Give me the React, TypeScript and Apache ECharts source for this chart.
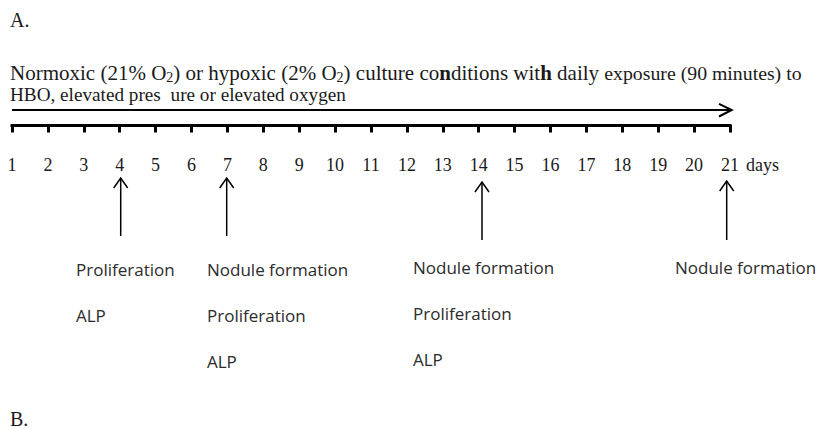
import React, { useEffect, useRef } from 'react';
import * as echarts from 'echarts';

// ---------- data ----------
const DAYS = ['1', '2', '3', '4', '5', '6', '7', '8', '9', '10', '11', '12', '13', '14', '15', '16', '17', '18', '19', '20', '21'];
const AXIS_UNIT = 'days';
const EXPOSURE_PERIOD = ['1', '21']; // daily exposure from first to last day
const EVENT_DAYS = ['4', '7', '14', '21'];
const EVENT_ASSAYS = [
  ['Proliferation', 'ALP'],
  ['Nodule formation', 'Proliferation', 'ALP'],
  ['Nodule formation', 'Proliferation', 'ALP'],
  ['Nodule formation'],
];
const PANEL_LABELS = ['A.', 'B.'];

// ---------- layout / style ----------
const SERIF = '"Liberation Serif", "Times New Roman", serif';
const SANS = '"Open Sans", "Noto Sans", sans-serif';
const TEXT_COLOR = '#1a1a1a';
const LABEL_COLOR = '#2b2b2b';
const ARROW_DX = [1, -0.7, 3.3, -3.3];
const ARROW_TOP = [178, 178, 182, 181];
const ARROW_BOTTOM = [236, 236, 240, 240];
const LABEL_DX = [-44.7, -19.7, -69, -51.7];
const LABEL_CENTER = [269.4, 269.4, 267.4, 267.4];
const ROW_GAP = 46;
const TICK_LABEL_CENTER_Y = 165;

export default function App() {
  const ref = useRef<HTMLDivElement>(null);

  useEffect(() => {
    if (!ref.current) return;
    document.body.style.margin = '0';
    const chart = echarts.init(ref.current, undefined, { renderer: 'svg' });

    const mainTok = { fontSize: 21, fontFamily: SERIF, color: TEXT_COLOR, lineHeight: 18, verticalAlign: 'middle' };
    const line1 =
      '{a|Normoxic (21% O}{s|2}{a|) or hypoxic (2% O}{s|2}{a|) culture co}{b|n}{a|ditions wit}{b|h }{a|daily }{c|exposure (90 minutes) to}';
    const line2 = '{d|HBO, elevated pres }{e|ure or elevated oxygen}';

    const option: any = {
      animation: false,
      grid: { left: 12, right: 88, top: 100, height: 25, outerBoundsMode: 'none' },
      xAxis: {
        type: 'category',
        data: DAYS,
        boundaryGap: false,
        axisLine: { show: true, lineStyle: { color: '#000', width: 3, cap: 'square' } },
        axisTick: { show: true, interval: 0, length: 7.5, lineStyle: { color: '#000', width: 3 } },
        axisLabel: { interval: 0, margin: 31, fontSize: 18, fontFamily: SERIF, color: TEXT_COLOR },
        splitLine: { show: false },
      },
      yAxis: { type: 'value', min: 0, max: 1, show: false },
      series: [
        {
          type: 'custom',
          silent: true,
          clip: false,
          encode: { x: [0, 1], y: 2 },
          data: [[DAYS.indexOf(EXPOSURE_PERIOD[0]), DAYS.indexOf(EXPOSURE_PERIOD[1]), 0]],
          renderItem: (params: any, api: any) => {
            const x0 = api.coord([api.value(0), 0])[0];
            const x1 = api.coord([api.value(1), 0])[0];
            const xEnd = api.coord([DAYS.length - 1, 0])[0];
            const y = 110;
            return {
              type: 'group',
              children: [
                { type: 'line', shape: { x1: x0, y1: y, x2: x1 + 1.2, y2: y }, style: { stroke: '#000', lineWidth: 2 } },
                {
                  type: 'polyline',
                  shape: { points: [[x1 - 11, y - 6.2], [x1 + 1.7, y], [x1 - 11, y + 6.5]] },
                  style: { stroke: '#000', lineWidth: 2, fill: 'none' },
                },
                {
                  type: 'text',
                  style: {
                    text: AXIS_UNIT,
                    x: xEnd + 16,
                    y: TICK_LABEL_CENTER_Y,
                    fontSize: 18,
                    fontFamily: SERIF,
                    fill: TEXT_COLOR,
                    align: 'left',
                    verticalAlign: 'middle',
                  },
                },
              ],
            };
          },
        },
        {
          type: 'custom',
          silent: true,
          clip: false,
          encode: { x: 0, y: 1 },
          data: EVENT_DAYS.map((d) => [DAYS.indexOf(d), 0]),
          renderItem: (params: any, api: any) => {
            const i = params.dataIndex;
            const x = api.coord([api.value(0), 0])[0] + ARROW_DX[i];
            const top = ARROW_TOP[i];
            const bottom = ARROW_BOTTOM[i];
            const children: any[] = [
              { type: 'line', shape: { x1: x, y1: top, x2: x, y2: bottom }, style: { stroke: '#000', lineWidth: 1.5 } },
              {
                type: 'polyline',
                shape: { points: [[x - 7, top + 10], [x, top], [x + 7, top + 10]] },
                style: { stroke: '#000', lineWidth: 1.5, fill: 'none' },
              },
            ];
            EVENT_ASSAYS[i].forEach((t, r) => {
              children.push({
                type: 'text',
                style: {
                  text: t,
                  x: x + LABEL_DX[i],
                  y: LABEL_CENTER[i] + r * ROW_GAP,
                  fontSize: 17,
                  fontFamily: SANS,
                  fill: LABEL_COLOR,
                  align: 'left',
                  verticalAlign: 'middle',
                },
              });
            });
            return { type: 'group', children };
          },
        },
      ],
      graphic: [
        {
          type: 'text',
          x: 10,
          y: 20.3,
          silent: true,
          style: { text: PANEL_LABELS[0], fontSize: 20, fontFamily: SERIF, fill: TEXT_COLOR, verticalAlign: 'middle' },
        },
        {
          type: 'text',
          x: 10,
          y: 72.8,
          silent: true,
          style: {
            text: line1,
            verticalAlign: 'middle',
            fill: TEXT_COLOR,
            rich: {
              a: mainTok,
              b: { ...mainTok, fontWeight: 'bold' },
              s: { fontSize: 14, fontFamily: SERIF, color: TEXT_COLOR, lineHeight: 11, padding: [10, 0, 0, 0], verticalAlign: 'middle' },
              c: { ...mainTok, fontSize: 19.8 },
            },
          },
        },
        {
          type: 'text',
          x: 10,
          y: 94.6,
          silent: true,
          style: {
            text: line2,
            verticalAlign: 'middle',
            fill: TEXT_COLOR,
            rich: {
              d: { fontSize: 19.2, fontFamily: SERIF, color: TEXT_COLOR, lineHeight: 16, verticalAlign: 'middle' },
              e: { fontSize: 19.2, fontFamily: SERIF, color: TEXT_COLOR, lineHeight: 16, verticalAlign: 'middle', padding: [0, 0, 0, 5] },
            },
          },
        },
        {
          type: 'text',
          x: 10,
          y: 419.3,
          silent: true,
          style: { text: PANEL_LABELS[1], fontSize: 20, fontFamily: SERIF, fill: TEXT_COLOR, verticalAlign: 'middle', lineHeight: 15 },
        },
      ],
    };

    chart.setOption(option);
    return () => chart.dispose();
  }, []);

  return <div ref={ref} style={{ position: 'absolute', left: 0, top: 0, width: 818, height: 429 }} />;
}
